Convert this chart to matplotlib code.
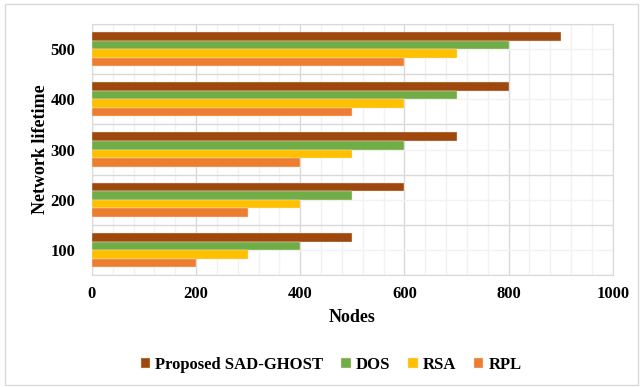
import numpy as np
import matplotlib.pyplot as plt
from matplotlib.ticker import MultipleLocator

# données
categories = ['100', '200', '300', '400', '500']
sad_ghost = [500, 600, 700, 800, 900]
dos = [400, 500, 600, 700, 800]
rsa = [300, 400, 500, 600, 700]
rpl = [200, 300, 400, 500, 600]

series = [('Proposed SAD-GHOST', sad_ghost, '#9E480E'),
          ('DOS', dos, '#70AD47'),
          ('RSA', rsa, '#FFC000'),
          ('RPL', rpl, '#ED7D31')]

plt.rcParams['font.family'] = ['Liberation Serif', 'DejaVu Serif']
plt.rcParams['font.weight'] = 'bold'

fig = plt.figure(figsize=(6.43, 3.87), dpi=100)
ax = fig.add_axes([0.143, 0.289, 0.81, 0.649])

y = np.arange(len(categories))
h = 0.17
for i, (nom, vals, coul) in enumerate(series):
    ax.barh(y + (1.5 - i) * h, vals, height=h, color=coul, label=nom,
            edgecolor='#F4E0D0', linewidth=0.3, zorder=3)

ax.set_xlim(0, 1000)
ax.set_ylim(-0.5, 4.5)
ax.xaxis.set_major_locator(MultipleLocator(200))
ax.xaxis.set_minor_locator(MultipleLocator(40))
ax.set_yticks(y)
ax.set_yticklabels(categories)
ax.set_yticks(np.arange(-0.5, 5, 1), minor=True)

# grilles
ax.grid(which='major', axis='x', color='#D9D9D9', linewidth=1.0, zorder=0)
ax.grid(which='minor', axis='x', color='#F2F2F2', linewidth=1.0, zorder=0)
ax.grid(which='minor', axis='y', color='#D9D9D9', linewidth=1.0, zorder=0)
ax.grid(which='major', axis='y', color='#F2F2F2', linewidth=1.0, zorder=0)
ax.tick_params(which='both', length=0, labelsize=12)
ax.tick_params(axis='x', pad=8)
ax.tick_params(axis='y', pad=12)
for s in ax.spines.values():
    s.set_color('#D9D9D9')

ax.set_xlabel('Nodes', fontsize=13, fontweight='bold', labelpad=5)
ax.set_ylabel('Network lifetime', fontsize=13, fontweight='bold', labelpad=1)

fig.legend(loc='center', bbox_to_anchor=(0.515, 0.058), ncol=4, frameon=False,
           fontsize=12, handlelength=0.55, handleheight=0.55, handletextpad=0.3,
           columnspacing=1.1)

# cadre extérieur
fig.patches.append(plt.Rectangle((0.008, 0.005), 0.984, 0.985, transform=fig.transFigure,
                                 fill=False, edgecolor='#D9D9D9', linewidth=1))

plt.savefig('out.png', dpi=100)
